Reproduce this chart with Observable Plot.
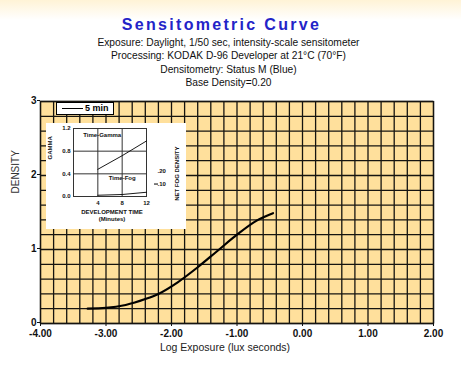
<!DOCTYPE html>
<html><head><meta charset="utf-8">
<script src="https://cdn.jsdelivr.net/npm/d3@7"></script>
<script src="https://cdn.jsdelivr.net/npm/@observablehq/plot@0.6"></script>
<style>
html,body{margin:0;padding:0;}
body{width:461px;height:368px;overflow:hidden;position:relative;background:linear-gradient(#fff3d6 0px,#ffffff 20px);font-family:"Liberation Sans",Arial,sans-serif;}
#title{position:absolute;left:-9px;width:461px;top:15px;text-align:center;font:bold 16px "Liberation Sans",Arial,sans-serif;letter-spacing:2.3px;color:#2323c8;line-height:20px;}
#sub{position:absolute;left:-2px;width:461px;top:36px;text-align:center;font:11px "Liberation Sans",sans-serif;color:#111;line-height:13.4px;transform:scaleX(0.93);transform-origin:230px 0;}
#main{position:absolute;left:0;top:90px;}
#inset{position:absolute;left:46px;top:123px;}
#leg{position:absolute;left:56px;top:102px;width:56px;height:11px;border:1px solid #000;background:#fff;font:bold 9px "Liberation Sans",Arial,sans-serif;}
</style></head><body>
<div id="title">Sensitometric Curve</div>
<div id="sub"></div>
<div id="main"></div>
<div id="inset"></div>
<div id="leg"><span style="position:absolute;left:5px;top:5px;width:21px;border-top:1.5px solid #000"></span><span id="legtxt" style="position:absolute;left:28px;top:0px;line-height:11px"></span></div>
<script>
// ---- data ----
const titleText = "Sensitometric Curve";
const subtitleLines = [
  "Exposure: Daylight, 1/50 sec, intensity-scale sensitometer",
  "Processing: KODAK D-96 Developer at 21°C (70°F)",
  "Densitometry: Status M (Blue)",
  "Base Density=0.20"
];
const legendLabel = "5 min";
const logExposure = [-3.28, -3.0, -2.7, -2.4, -2.2, -1.9, -1.6, -1.3, -1.0, -0.7, -0.45];
const density     = [0.20, 0.21, 0.25, 0.33, 0.40, 0.56, 0.76, 0.98, 1.20, 1.39, 1.49];
const xTicks = [-4, -3, -2, -1, 0, 1, 2];
const yTicks = [0, 1, 2, 3];
const xLabel = "Log Exposure (lux seconds)";
const yLabel = "DENSITY";

// inset data
const devTime = [4, 8, 12];
const gamma   = [0.48, 0.72, 0.98];
const fogTime = [4, 8, 12];
const netFog  = [0.01, 0.016, 0.034];
const insetXTicks = [4, 8, 12];
const gammaTicks = [0, 0.4, 0.8, 1.2];
const fogTicks = [0.10, 0.20];
const fogScale = 2.2; // fog axis mapped onto gamma axis
const insetLabels = [
  {t: 1.6, g: 1.08, text: "Time-Gamma"},
  {t: 5.8, g: 0.32, text: "Time-Fog"}
];
const insetXLabel = ["DEVELOPMENT TIME", "(Minutes)"];

document.getElementById("title").textContent = titleText;
document.getElementById("sub").innerHTML = subtitleLines.join("<br>");
document.getElementById("legtxt").textContent = legendLabel;

const curve = logExposure.map((x, i) => ({x, y: density[i]}));
const lineCol = "#161410";

const main = Plot.plot({
  width: 461, height: 278,
  marginTop: 11, marginBottom: 45, marginLeft: 40, marginRight: 28,
  style: {font: "bold 10px 'Liberation Sans', Arial, sans-serif", background: "transparent", overflow: "visible", color: "#111"},
  x: {domain: [-4, 2]},
  y: {domain: [0, 3]},
  marks: [
    Plot.frame({fill: "#ffe09c"}),
    Plot.gridX(d3.range(-4, 2.0001, 0.2), {stroke: lineCol, strokeOpacity: 1, strokeWidth: 1.3}),
    Plot.gridY(d3.range(0, 3.0001, 0.2), {stroke: lineCol, strokeOpacity: 1, strokeWidth: 1.3}),
    Plot.frame({stroke: lineCol, strokeWidth: 1.3}),
    Plot.line(curve, {x: "x", y: "y", curve: "monotone-x", stroke: "#000", strokeWidth: 2.2}),
    Plot.axisX({ticks: xTicks, tickFormat: d => d.toFixed(2), tickSize: 3, tickPadding: 3, label: null, fontWeight: "bold"}),
    Plot.axisY({ticks: yTicks, tickFormat: d => String(d), tickSize: 3, tickPadding: 1, label: null, fontWeight: "bold", dy: -1}),
    Plot.text([xLabel], {frameAnchor: "bottom", dy: 27, dx: -12, fontWeight: "normal", fontSize: 10.5, fill: "#222"}),
    Plot.text([yLabel], {frameAnchor: "left", rotate: -90, dx: -25, dy: -19, fontWeight: "normal", fontSize: 10, fill: "#333"})
  ]
});
document.getElementById("main").appendChild(main);

const gammaData = devTime.map((t, i) => ({t, g: gamma[i]}));
const fogData = fogTime.map((t, i) => ({t, g: netFog[i] * fogScale}));

const inset = Plot.plot({
  width: 140, height: 106,
  marginTop: 5, marginBottom: 33, marginLeft: 27, marginRight: 40,
  style: {font: "bold 6px 'Liberation Sans', Arial, sans-serif", background: "#fff", overflow: "visible", color: "#111"},
  x: {domain: [0, 12]},
  y: {domain: [0, 1.2]},
  marks: [
    Plot.gridX([4, 8], {stroke: "#333", strokeOpacity: 1}),
    Plot.gridY([0.4, 0.8], {stroke: "#333", strokeOpacity: 1}),
    Plot.frame({stroke: "#333"}),
    Plot.line(gammaData, {x: "t", y: "g", stroke: "#000", strokeWidth: 0.9}),
    Plot.line(fogData, {x: "t", y: "g", stroke: "#000", strokeWidth: 0.9}),
    Plot.axisX({ticks: insetXTicks, tickSize: 0, tickPadding: 4, label: null}),
    Plot.axisY({ticks: gammaTicks, tickFormat: d => d.toFixed(1), tickSize: 0, tickPadding: 3, label: null}),
    Plot.axisY(fogTicks.map(f => f * fogScale), {anchor: "right", tickFormat: d => (d / fogScale).toFixed(2).replace(/^0/, ""), tickSize: 0, tickPadding: 11, label: null}),
    Plot.axisY([fogTicks[0] * fogScale], {anchor: "right", tickFormat: () => "", tickSize: 4, dx: 7, label: null, stroke: "#000"}),
    Plot.text(insetLabels, {x: "t", y: "g", text: "text", textAnchor: "start", fontSize: 6}),
    Plot.text([insetXLabel[0]], {frameAnchor: "bottom", dy: 17, dx: 2, fontSize: 6}),
    Plot.text([insetXLabel[1]], {frameAnchor: "bottom", dy: 24, dx: 2, fontSize: 6}),
    Plot.text(["GAMMA"], {frameAnchor: "left", rotate: -90, dx: -23, dy: -3, fontSize: 6}),
    Plot.text(["NET FOG DENSITY"], {frameAnchor: "right", rotate: -90, dx: 31, dy: -16, fontSize: 6})
  ]
});
document.getElementById("inset").appendChild(inset);
</script>
</body></html>
